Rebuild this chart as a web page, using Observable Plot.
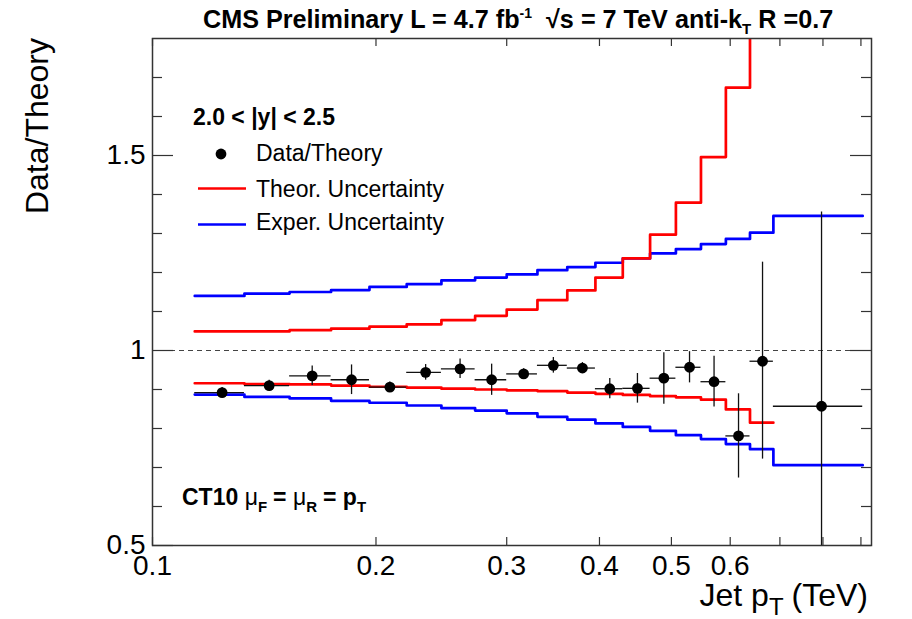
<!DOCTYPE html>
<html><head><meta charset="utf-8">
<script src="https://cdn.jsdelivr.net/npm/d3@7"></script>
<script src="https://cdn.jsdelivr.net/npm/@observablehq/plot@0.6"></script>
<style>body{margin:0;background:#fff} svg{display:block}</style>
</head><body><div id="chart"></div>
<script>
// Bin edges in TeV
const binEdges = [0.114,0.133,0.153,0.174,0.196,0.220,0.245,0.272,0.300,0.330,0.362,0.395,0.430,0.468,0.507,0.548,0.592,0.638,0.686,0.905];
// Experimental uncertainty band (19 bins)
const expUp   = [1.140,1.146,1.150,1.155,1.163,1.170,1.180,1.187,1.195,1.206,1.214,1.225,1.236,1.249,1.260,1.273,1.286,1.302,1.345];
const expDown = [0.887,0.881,0.877,0.871,0.866,0.859,0.852,0.846,0.839,0.830,0.823,0.813,0.804,0.794,0.783,0.773,0.760,0.747,0.706];
// Theoretical uncertainty band (18 bins)
const theoUp   = [1.049,1.049,1.052,1.056,1.061,1.067,1.078,1.089,1.105,1.129,1.154,1.187,1.236,1.297,1.379,1.496,1.674,2.000];
const theoDown = [0.916,0.914,0.913,0.910,0.907,0.905,0.902,0.900,0.898,0.896,0.892,0.889,0.886,0.883,0.880,0.874,0.849,0.815];
// Data/Theory points
const ptMean  = [0.1241,0.1436,0.1641,0.1854,0.2088,0.2333,0.2596,0.2863,0.3162,0.3467,0.3794,0.4130,0.4500,0.4884,0.5289,0.5707,0.6157,0.6633,0.7965];
const ratio   = [0.892,0.910,0.935,0.925,0.906,0.944,0.953,0.925,0.940,0.962,0.955,0.902,0.903,0.929,0.957,0.920,0.781,0.9725,0.857];
const errUp   = [0.013,0.014,0.025,0.038,0.013,0.020,0.025,0.040,0.013,0.020,0.014,0.026,0.038,0.065,0.040,0.065,0.108,0.254,0.498];
const errDown = [0.013,0.014,0.025,0.038,0.013,0.020,0.025,0.040,0.013,0.020,0.014,0.026,0.038,0.067,0.040,0.065,0.108,0.251,0.500];
// Ticks
const xTickValues = [0.1,0.2,0.3,0.4,0.5,0.6,0.7,0.8,0.9];
const xTickLabels = [0.1,0.2,0.3,0.4,0.5,0.6];
const yMajor = [0.5,1,1.5];
const yMinor = [0.6,0.7,0.8,0.9,1.1,1.2,1.3,1.4,1.6,1.7];

function steps(vals){
  const pts = vals.map((v,i)=>({x:binEdges[i], y:v}));
  pts.push({x:binEdges[vals.length], y:vals[vals.length-1]});
  return pts;
}
const points = ratio.map((r,i)=>({x:ptMean[i], y:r, lo:r-errDown[i], hi:r+errUp[i], x1:binEdges[i], x2:binEdges[i+1]}));

const W=912,H=619,mL=152,mR=41,mT=38,mB=74;
const fw=W-mL-mR, fh=H-mT-mB;
const FONT="'Liberation Sans', Arial, Helvetica, sans-serif";

const plot = Plot.plot({
  width:W, height:H, marginLeft:mL, marginRight:mR, marginTop:mT, marginBottom:mB,
  x:{type:"log", domain:[0.1,0.93]},
  y:{domain:[0.5,1.8]},
  style:{fontFamily:FONT, fontSize:"28px", color:"#000", background:"#fff", overflow:"visible"},
  marks:[
    Plot.ruleY([1],{stroke:"#444", strokeWidth:1.2, strokeDasharray:"5,4"}),
    Plot.line(steps(expUp),{x:"x",y:"y",curve:"step-after",stroke:"#0000ff",strokeWidth:2.7,clip:true}),
    Plot.line(steps(expDown),{x:"x",y:"y",curve:"step-after",stroke:"#0000ff",strokeWidth:2.7,clip:true}),
    Plot.line(steps(theoUp),{x:"x",y:"y",curve:"step-after",stroke:"#ff0000",strokeWidth:2.7,clip:true}),
    Plot.line(steps(theoDown),{x:"x",y:"y",curve:"step-after",stroke:"#ff0000",strokeWidth:2.7,clip:true}),
    Plot.ruleY(points,{y:"y",x1:"x1",x2:"x2",stroke:"#111",strokeWidth:1.3}),
    Plot.ruleX(points,{x:"x",y1:"lo",y2:"hi",stroke:"#111",strokeWidth:1.3,clip:true}),
    Plot.dot(points,{x:"x",y:"y",r:5.4,fill:"#000",stroke:null}),
    Plot.frame({stroke:"#333",strokeWidth:1.5}),
    Plot.tickX(xTickValues,{x:d=>d, insetTop:fh-8, stroke:"#333", strokeWidth:1.2}),
    Plot.tickX(xTickValues,{x:d=>d, insetBottom:fh-8, stroke:"#333", strokeWidth:1.2}),
    Plot.tickY(yMajor,{y:d=>d, insetRight:fw-21, stroke:"#333", strokeWidth:1.2}),
    Plot.tickY(yMajor,{y:d=>d, insetLeft:fw-21, stroke:"#333", strokeWidth:1.2}),
    Plot.tickY(yMinor,{y:d=>d, insetRight:fw-10, stroke:"#333", strokeWidth:1.2}),
    Plot.tickY(yMinor,{y:d=>d, insetLeft:fw-10, stroke:"#333", strokeWidth:1.2}),
    Plot.axisX(xTickLabels,{tickSize:0, tickPadding:10, tickFormat:d=>String(d), fontSize:28, label:null}),
    Plot.axisY(yMajor,{tickSize:0, tickPadding:7, tickFormat:d=>String(d), fontSize:28, label:null})
  ]
});

const svg = d3.select(plot);
const ann = svg.append("g").attr("font-family",FONT).attr("fill","#000").attr("text-anchor","start");

// Title
const t = ann.append("text").attr("x",203).attr("y",28).attr("font-weight","bold").attr("font-size",25.2);
t.append("tspan").text("CMS Preliminary L = 4.7 fb");
t.append("tspan").attr("font-size",14).attr("dy",-10).text("-1");
t.append("tspan").attr("font-size",25.2).attr("dy",10).attr("dx",14).text("√s = 7 TeV anti-k");
t.append("tspan").attr("font-size",15).attr("dy",6).text("T");
t.append("tspan").attr("font-size",25.2).attr("dy",-6).attr("dx",7).text("R =0.7");

// Axis titles
ann.append("text").attr("transform","translate(48,38) rotate(-90)").attr("text-anchor","end")
  .attr("font-size",32).text("Data/Theory");
const xt = ann.append("text").attr("x",868).attr("y",606).attr("text-anchor","end").attr("font-size",32);
xt.append("tspan").text("Jet p");
xt.append("tspan").attr("font-size",24).attr("dy",9).text("T");
xt.append("tspan").attr("dy",-9).attr("dx",8).text("(TeV)");

// Legend
ann.append("text").attr("x",193).attr("y",125).attr("font-weight","bold").attr("font-size",23).text("2.0 < |y| < 2.5");
ann.append("circle").attr("cx",221).attr("cy",154).attr("r",5.4).attr("fill","#000");
ann.append("text").attr("x",256).attr("y",161).attr("font-size",23).text("Data/Theory");
ann.append("line").attr("x1",198).attr("x2",246).attr("y1",188.5).attr("y2",188.5).attr("stroke","#ff0000").attr("stroke-width",2.7);
ann.append("text").attr("x",256).attr("y",197).attr("font-size",23).text("Theor. Uncertainty");
ann.append("line").attr("x1",198).attr("x2",246).attr("y1",224.5).attr("y2",224.5).attr("stroke","#0000ff").attr("stroke-width",2.7);
ann.append("text").attr("x",256).attr("y",230).attr("font-size",23).text("Exper. Uncertainty");

// CT10 label
const ct = ann.append("text").attr("x",182).attr("y",505).attr("font-weight","bold").attr("font-size",23);
ct.append("tspan").text("CT10 ");
ct.append("tspan").attr("font-weight","normal").text("μ");
ct.append("tspan").attr("font-size",15).attr("dy",7).text("F");
ct.append("tspan").attr("dy",-7).attr("dx",6).text("= ");
ct.append("tspan").attr("font-weight","normal").text("μ");
ct.append("tspan").attr("font-size",15).attr("dy",7).text("R");
ct.append("tspan").attr("dy",-7).attr("dx",6).text("= p");
ct.append("tspan").attr("font-size",15).attr("dy",7).text("T");

document.getElementById("chart").appendChild(plot);
</script>
</body></html>
